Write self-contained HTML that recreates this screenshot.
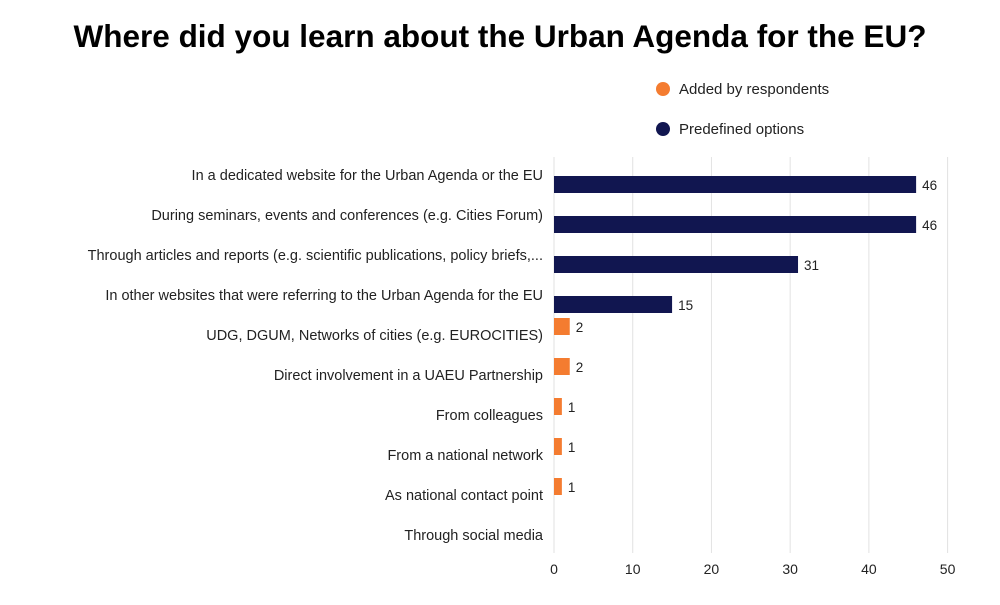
<!DOCTYPE html>
<html><head><meta charset="utf-8"><style>
body{margin:0;background:#fff;font-family:"Liberation Sans","DejaVu Sans",sans-serif;}
</style></head><body>
<svg width="1000" height="600" viewBox="0 0 1000 600" xmlns="http://www.w3.org/2000/svg">
<rect width="1000" height="600" fill="#fff"/>
<text x="500" y="47" text-anchor="middle" font-size="31.5" font-weight="bold" fill="#000">Where did you learn about the Urban Agenda for the EU?</text>
<g>
<circle cx="663" cy="89" r="7" fill="#f47c30"/>
<text x="679" y="94" font-size="15" fill="#222">Added by respondents</text>
<circle cx="663" cy="129" r="7" fill="#111650"/>
<text x="679" y="134" font-size="15" fill="#222">Predefined options</text>
</g>
<g id="grid"></g><g id="bars"></g><g id="labels"></g><g id="ticks"></g>
</svg>
<script>
const categories=["In a dedicated website for the Urban Agenda or the EU","During seminars, events and conferences (e.g. Cities Forum)","Through articles and reports (e.g. scientific publications, policy briefs,...","In other websites that were referring to the Urban Agenda for the EU","UDG, DGUM, Networks of cities (e.g. EUROCITIES)","Direct involvement in a UAEU Partnership","From colleagues","From a national network","As national contact point","Through social media"];
const predefined=[46,46,31,15,null,null,null,null,null,null];
const added=[null,null,null,null,2,2,1,1,1,null];
const ticks=[0,10,20,30,40,50];
const NS="http://www.w3.org/2000/svg";
const x0=554,x1=947.6,vmax=50,bandTop=155,band=40,gTop=157,gBot=553;
const xs=v=>x0+(x1-x0)*v/vmax;
const yb=i=>bandTop+band*i;
function mk(t,a,p){const e=document.createElementNS(NS,t);for(const k in a)e.setAttribute(k,a[k]);p.appendChild(e);return e;}
const grid=document.getElementById('grid'),bars=document.getElementById('bars'),labels=document.getElementById('labels'),tk=document.getElementById('ticks');
ticks.forEach(t=>{
 const l=mk('line',{x1:xs(t),x2:xs(t),y1:gTop,y2:gBot,stroke:'#e2e2e2','stroke-width':1},grid);
 
 
 const tx=mk('text',{x:xs(t),y:574,'text-anchor':'middle','font-size':14,fill:'#222'},tk);
 tx.textContent=t;
 
 
});
categories.forEach((c,i)=>{
 const tx=mk('text',{x:543,y:yb(i)+25,'text-anchor':'end','font-size':14.5,fill:'#222'},labels);
 tx.textContent=c;
 
 
 [[added[i],'#f47c30',3,'added'],[predefined[i],'#111650',21,'predefined']].forEach(([v,col,off,nm])=>{
  if(v==null)return;
  const r=mk('rect',{x:x0,y:yb(i)+off,width:xs(v)-x0,height:17,fill:col},bars);
  
  
  const vt=mk('text',{x:xs(v)+6,y:yb(i)+off+14,'font-size':13.5,fill:'#222'},bars);
  vt.textContent=v;
  
  
 });
});
</script>
</body></html>
